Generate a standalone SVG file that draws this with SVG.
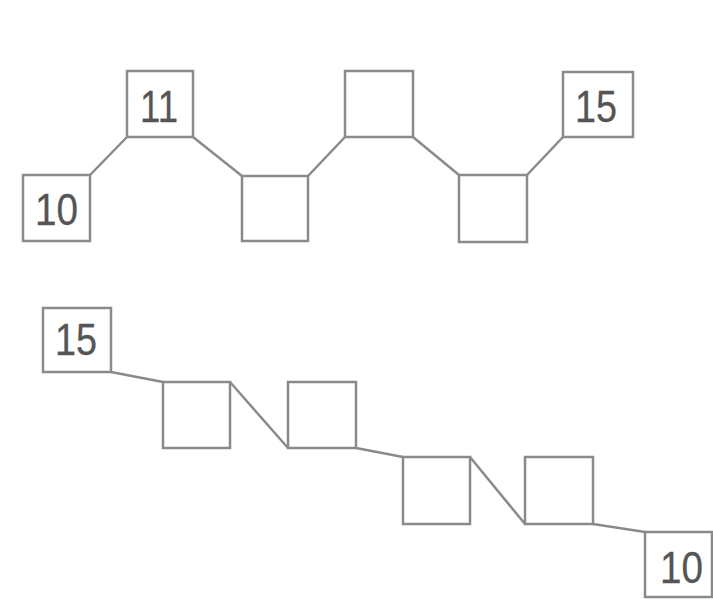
<svg xmlns="http://www.w3.org/2000/svg" width="713" height="600" viewBox="0 0 713 600">
<style>
.box{fill:#fff;stroke:#8a8a8a;stroke-width:2.5}
.ln{stroke:#8a8a8a;stroke-width:2.5;fill:none}
.t{font-family:"Liberation Sans",Arial,sans-serif;font-size:45px;fill:#555;stroke:#555;stroke-width:0.3;text-anchor:middle}
</style>
<rect width="713" height="600" fill="#fff"/>
<g id="connectors">
<line class="ln" x1="90" y1="175" x2="127" y2="137"/>
<line class="ln" x1="193" y1="137" x2="242" y2="176"/>
<line class="ln" x1="308" y1="176" x2="345" y2="137"/>
<line class="ln" x1="413" y1="137" x2="459" y2="175"/>
<line class="ln" x1="527" y1="175" x2="563" y2="137"/>
<line class="ln" x1="111" y1="372" x2="163" y2="382"/>
<line class="ln" x1="230" y1="382" x2="288" y2="448"/>
<line class="ln" x1="356" y1="448" x2="403" y2="457"/>
<line class="ln" x1="470" y1="457" x2="525" y2="524"/>
<line class="ln" x1="593" y1="524" x2="645" y2="532"/>
</g>
<g id="t1"><rect class="box" x="23" y="175" width="67" height="66"/><text class="t" x="56.5" y="225" textLength="43" lengthAdjust="spacingAndGlyphs">10</text></g>
<g id="t2"><rect class="box" x="127" y="71" width="66" height="66"/><text class="t" x="159" y="122" textLength="38" lengthAdjust="spacingAndGlyphs">11</text></g>
<g id="t3"><rect class="box" x="242" y="176" width="66" height="65"/></g>
<g id="t4"><rect class="box" x="345" y="71" width="68" height="66"/></g>
<g id="t5"><rect class="box" x="459" y="175" width="68" height="67"/></g>
<g id="t6"><rect class="box" x="563" y="72" width="70" height="65"/><text class="t" x="596" y="122" textLength="42" lengthAdjust="spacingAndGlyphs">15</text></g>
<g id="b1"><rect class="box" x="43" y="308" width="68" height="64"/><text class="t" x="76" y="355" textLength="42" lengthAdjust="spacingAndGlyphs">15</text></g>
<g id="b2"><rect class="box" x="163" y="382" width="67" height="66"/></g>
<g id="b3"><rect class="box" x="288" y="382" width="68" height="66"/></g>
<g id="b4"><rect class="box" x="403" y="457" width="67" height="67"/></g>
<g id="b5"><rect class="box" x="525" y="457" width="68" height="67"/></g>
<g id="b6"><rect class="box" x="645" y="532" width="67" height="65"/><text class="t" x="681.5" y="583" textLength="43" lengthAdjust="spacingAndGlyphs">10</text></g>
</svg>
